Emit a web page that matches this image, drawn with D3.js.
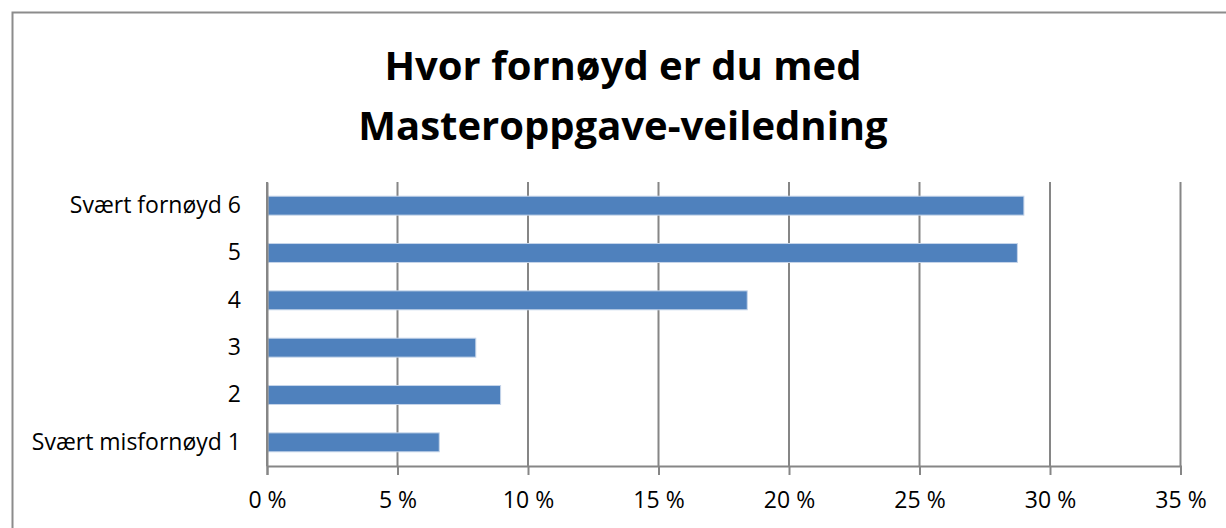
<!DOCTYPE html>
<html>
<head>
<meta charset="utf-8">
<script src="https://cdn.jsdelivr.net/npm/d3@7"></script>
<style>
  html, body { margin: 0; padding: 0; background: #fff; }
  svg { display: block; }
  text { font-family: "Open Sans", "Liberation Sans", sans-serif; fill: #000; }
</style>
</head>
<body>
<svg id="chart"></svg>
<script>
const width = 1226
const height = 528

const titleLines = ["Hvor fornøyd er du med", "Masteroppgave-veiledning"]
const categories = ["Svært fornøyd 6", "5", "4", "3", "2", "Svært misfornøyd 1"]
const shares = [29.0, 28.75, 18.4, 8.0, 8.95, 6.6]
const xTicks = [0, 5, 10, 15, 20, 25, 30, 35]

const margin = { top: 182, right: 45.5, bottom: 62, left: 267 }

const svg = d3.select("#chart")
    .attr("width", width)
    .attr("height", height)

// chart frame (runs off the right and bottom edge of the picture)
svg.append("rect")
    .attr("x", 12.5)
    .attr("y", 12.5)
    .attr("width", width)
    .attr("height", height)
    .attr("fill", "none")
    .attr("stroke", "#8c8c8c")
    .attr("stroke-width", 2)

const x = d3.scaleLinear()
    .domain([0, 35])
    .range([margin.left, width - margin.right])

const y = d3.scaleBand()
    .domain(categories)
    .range([margin.top, height - margin.bottom])
    .paddingInner(0.6)
    .paddingOuter(0.3)

// vertical gridlines
svg.append("g")
    .selectAll("line")
    .data(xTicks)
    .join("line")
    .attr("x1", d => x(d))
    .attr("x2", d => x(d))
    .attr("y1", margin.top)
    .attr("y2", height - margin.bottom)
    .attr("stroke", "#868686")
    .attr("stroke-width", 2)

// bars
svg.append("g")
    .selectAll("rect")
    .data(shares)
    .join("rect")
    .attr("x", x(0) + 1)
    .attr("y", (d, i) => y(categories[i]))
    .attr("width", d => x(d) - x(0) - 1)
    .attr("height", y.bandwidth())
    .attr("fill", "#4f81bd")
    .attr("stroke", "#c6d5ea")
    .attr("stroke-width", 1)

// x axis
const xAxis = svg.append("g")
    .attr("transform", `translate(0,${height - margin.bottom})`)
    .call(d3.axisBottom(x).tickValues(xTicks).tickSize(9).tickPadding(17)
        .tickFormat(d => d + " %"))
xAxis.select(".domain").attr("stroke", "#868686").attr("stroke-width", 2)
xAxis.selectAll(".tick line").attr("stroke", "#868686").attr("stroke-width", 2)
xAxis.selectAll("text").style("font-size", "23px").attr("fill", "#000")

// y axis
const yAxis = svg.append("g")
    .attr("transform", `translate(${margin.left},0)`)
    .call(d3.axisLeft(y).tickSize(0).tickPadding(26))
yAxis.select(".domain").attr("stroke", "#868686").attr("stroke-width", 2)
yAxis.selectAll("text").style("font-size", "23px").attr("fill", "#000")

// title
svg.append("g")
    .selectAll("text")
    .data(titleLines)
    .join("text")
    .attr("x", 623)
    .attr("y", (d, i) => 80 + i * 60)
    .attr("text-anchor", "middle")
    .style("font-size", "40px")
    .style("font-weight", "bold")
    .text(d => d)
</script>
</body>
</html>
